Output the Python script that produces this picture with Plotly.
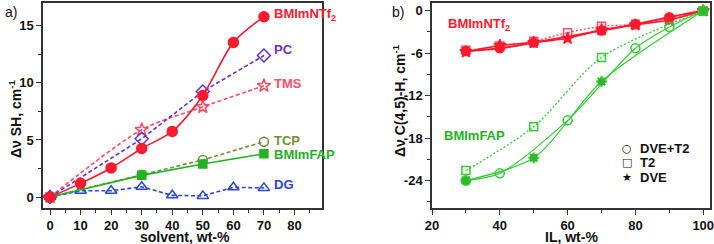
import plotly.graph_objects as go

# ---------- Panel a data ----------
solvent_ntf2 = [0, 10, 20, 30, 40, 50, 60, 70]
ntf2_a = [0, 1.2, 2.55, 4.25, 5.75, 8.9, 13.55, 15.8]
solvent_pc = [0, 30, 50, 70]
pc_a = [0, 5.1, 9.25, 12.4]
solvent_tms = [0, 30, 50, 70]
tms_a = [0, 5.9, 7.9, 9.75]
solvent_tcp = [0, 30, 50, 70]
tcp_a = [0, 1.95, 3.25, 4.85]
solvent_fap = [0, 30, 50, 70]
fap_a = [0, 1.9, 2.9, 3.8]
solvent_dg = [0, 10, 20, 30, 40, 50, 60, 70]
dg_a = [0, 0.55, 0.55, 0.9, 0.15, 0.1, 0.85, 0.8]

# ---------- Panel b data ----------
il_red_c = [30, 40, 50, 70, 80, 90, 100]
red_dvet2 = [-5.7, -5.3, -4.5, -2.8, -1.9, -0.9, 0]
il_red_s = [30, 40, 50, 60, 70, 80, 90, 100]
red_t2 = [-5.6, -5.0, -4.3, -3.1, -2.2, -1.9, -1.2, 0]
il_red_st = [30, 40, 50, 60, 70, 80, 90, 100]
red_dve = [-5.8, -4.9, -4.5, -3.9, -2.7, -2.0, -1.3, 0]

il_green_c = [30, 40, 60, 80, 90, 100]
green_dvet2 = [-24.0, -23.0, -15.5, -5.3, -2.3, 0]
il_green_s = [30, 50, 70, 100]
green_t2 = [-22.6, -16.4, -6.6, 0]
il_green_st = [30, 50, 70, 100]
green_dve = [-24.0, -20.8, -10.0, 0]

legend_names = ["DVE+T2", "T2", "DVE"]
legend_glyphs = ["○", "□", "★"]

RED = "#ff1a2e"
PINK = "#ff4d66"
PURPLE = "#6a2fd0"
OLIVE = "#6f8f3a"
GREEN = "#22b322"
BLUE = "#2a44dd"
LGREEN = "#33cc33"

FONT = "Liberation Sans, Arial, sans-serif"
W, H = 714, 244
ML, MR, MT, MB = 43, 4, 3, 36
PW, PH = W - ML - MR, H - MT - MB

def px(x):
    return (x - ML) / PW

def py(y):
    return (H - MB - y) / PH

fig = go.Figure()

def add(x, y, color, symbol, dash, size, xa, ya, shape="linear", width=1.6, fill=None, lw=1.5):
    fig.add_trace(go.Scatter(
        x=x, y=y, mode="lines+markers", xaxis=xa, yaxis=ya, showlegend=False,
        line=dict(color=color, width=width, dash=dash, shape=shape, smoothing=0.8),
        marker=dict(symbol=symbol, size=size, color=fill if fill else color,
                    line=dict(color=color, width=lw)),
        cliponaxis=False, hoverinfo="skip"))

DASH = "4px,2.5px"
DOT = "2px,2px"

# panel a
add(solvent_tms, tms_a, PINK, "star-open", DASH, 10, "x", "y", shape="spline")
add(solvent_pc, pc_a, PURPLE, "diamond-open", DASH, 10, "x", "y")
add(solvent_tcp, tcp_a, OLIVE, "circle-open", DASH, 9, "x", "y")
add(solvent_dg, dg_a, BLUE, "triangle-up-open", DASH, 10, "x", "y")
add(solvent_fap, fap_a, GREEN, "square", "solid", 8, "x", "y")
add(solvent_ntf2, ntf2_a, RED, "circle", "solid", 10, "x", "y", shape="spline")

# panel b
add(il_red_s, red_t2, PINK, "square-open", DOT, 8, "x2", "y2", shape="spline", width=1.3)
add(il_red_st, red_dve, RED, "star", "solid", 9, "x2", "y2", shape="spline", width=1.5)
add(il_red_c, red_dvet2, RED, "circle", "solid", 9, "x2", "y2", shape="spline", width=2)
add(il_green_s, green_t2, LGREEN, "square-open", DOT, 8, "x2", "y2", shape="spline", width=1.3)
add(il_green_c, green_dvet2, LGREEN, "circle-open", "solid", 9, "x2", "y2", shape="spline", width=1.2)
add(il_green_st, green_dve, LGREEN, "asterisk-open", "solid", 9, "x2", "y2", shape="spline", width=1.2, lw=2)
fig.add_trace(go.Scatter(x=il_green_st, y=green_dve, mode="markers", xaxis="x2", yaxis="y2",
                         showlegend=False, hoverinfo="skip",
                         marker=dict(symbol="circle", size=8, color="#2db82d")))

tickfont = dict(family=FONT, size=13, color="#111", weight="bold")
titlefont = dict(family=FONT, size=14, color="#111", weight="bold")

axis_common = dict(showline=True, linecolor="#333", linewidth=1.5, mirror=True, ticks="outside",
                   ticklen=5, tickwidth=1.3, tickcolor="#333", showgrid=False, zeroline=False,
                   tickfont=tickfont, automargin=False, ticklabeloverflow="allow")

y2vals = [0, -6, -12, -18, -24]
y2text = ["0", "-6", "-12", "-18", "-24"]

fig.update_layout(
    width=W, height=H,
    margin=dict(l=ML, r=MR, t=MT, b=MB),
    paper_bgcolor="white", plot_bgcolor="white",
    showlegend=False,
    xaxis=dict(domain=[0, px(322)], range=[-2.3, 89], anchor="y", dtick=10,
               minor=dict(ticks="outside", ticklen=3, dtick=5, tickcolor="#333", tickwidth=1),
               **axis_common),
    yaxis=dict(domain=[0, 1], range=[-0.96, 17.0], anchor="x", dtick=5,
               minor=dict(ticks="outside", ticklen=3, dtick=2.5, tickcolor="#333", tickwidth=1),
               **axis_common),
    xaxis2=dict(domain=[px(432), 1.0], range=[20, 102], anchor="y2", dtick=20,
                minor=dict(ticks="outside", ticklen=3, dtick=10, tickcolor="#333", tickwidth=1),
                **axis_common),
    yaxis2=dict(domain=[0, 1], range=[-27.9, 1.1], anchor="x2", tickvals=y2vals, ticktext=y2text,
                minor=dict(ticks="outside", ticklen=3, tickvals=[-3, -9, -15, -21, -27],
                           tickcolor="#333", tickwidth=1),
                **axis_common),
)

ann = [
    ("BMImNTf<sub>2</sub>", 72.5, 16.0, RED, "x", "y"),
    ("PC", 72.5, 12.9, PURPLE, "x", "y"),
    ("TMS", 72.5, 9.95, PINK, "x", "y"),
    ("TCP", 72.5, 4.95, OLIVE, "x", "y"),
    ("BMImFAP", 72.5, 3.7, GREEN, "x", "y"),
    ("DG", 72.5, 1.1, BLUE, "x", "y"),
    ("BMImNTf<sub>2</sub>", 24.2, -2.0, RED, "x2", "y2"),
    ("BMImFAP", 23.0, -17.7, GREEN, "x2", "y2"),
]
for t, x, y, c, xr, yr in ann:
    fig.add_annotation(text=t, x=x, y=y, xref=xr, yref=yr, xanchor="left", yanchor="middle",
                       showarrow=False, font=dict(color=c, size=13, family=FONT, weight="bold"))

# axis titles placed precisely
fig.add_annotation(text="solvent, wt-%", x=px(185), y=py(237.5), xref="paper", yref="paper",
                   showarrow=False, xanchor="center", yanchor="middle", font=titlefont)
fig.add_annotation(text="IL, wt-%", x=px(571), y=py(237.5), xref="paper", yref="paper",
                   showarrow=False, xanchor="center", yanchor="middle", font=titlefont)
fig.add_annotation(text="Δν SH, cm<sup>-1</sup>", x=px(15), y=py(119), xref="paper", yref="paper",
                   showarrow=False, xanchor="center", yanchor="middle", textangle=-90, font=titlefont)
fig.add_annotation(text="Δν C(4,5)-H, cm<sup>-1</sup>", x=px(399), y=py(101), xref="paper", yref="paper",
                   showarrow=False, xanchor="center", yanchor="middle", textangle=-90, font=titlefont)

# legend of panel b
for i, (g, n) in enumerate(zip(legend_glyphs, legend_names)):
    yy = py(148 + 14.5 * i)
    fig.add_annotation(text=g, x=px(627), y=yy, xref="paper", yref="paper", showarrow=False,
                       xanchor="center", yanchor="middle",
                       font=dict(family="DejaVu Sans", size=11, color="#111", weight="bold"))
    fig.add_annotation(text=n, x=px(638), y=yy, xref="paper", yref="paper", showarrow=False,
                       xanchor="left", yanchor="middle", font=dict(family=FONT, size=13, color="#111", weight="bold"))

fig.add_annotation(text="a)", x=px(3), y=py(12), xref="paper", yref="paper", showarrow=False,
                   xanchor="left", yanchor="middle", font=dict(family=FONT, size=14, color="#111"))
fig.add_annotation(text="b)", x=px(390), y=py(12), xref="paper", yref="paper", showarrow=False,
                   xanchor="left", yanchor="middle", font=dict(family=FONT, size=14, color="#111"))

fig.write_html("out.html", config={"displayModeBar": False},
               post_script="document.body.style.margin='0px';")
